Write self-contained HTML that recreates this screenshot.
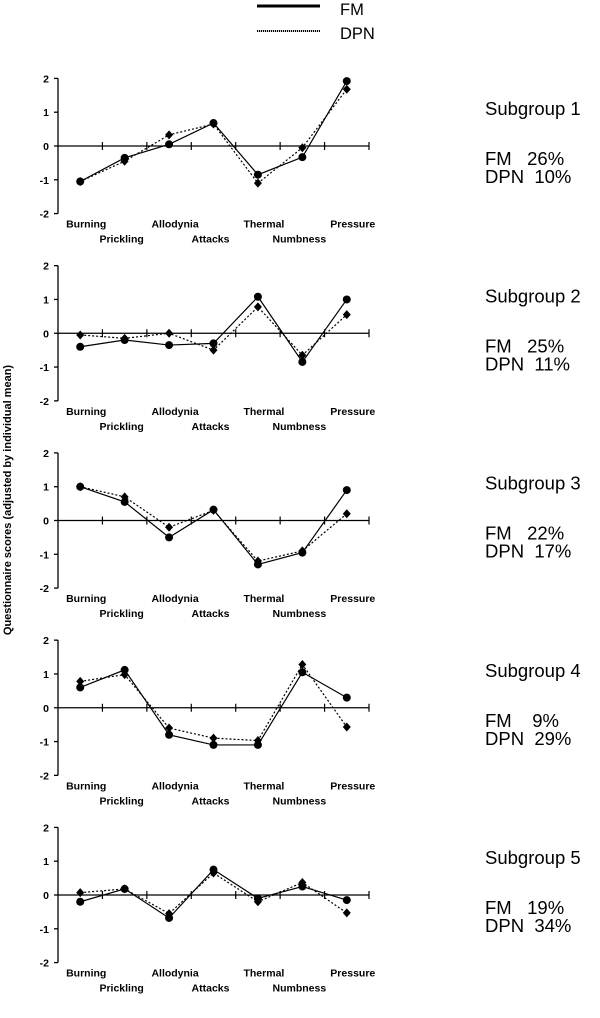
<!DOCTYPE html>
<html><head><meta charset="utf-8"><style>
body{margin:0;background:#fff;}
svg{display:block;font-family:"Liberation Sans",Arial,sans-serif;}
</style></head><body>
<svg id="chart" width="600" height="1018" viewBox="0 0 600 1018" xmlns="http://www.w3.org/2000/svg">
<g>
<line x1="257" y1="6" x2="320" y2="6" stroke="#000" stroke-width="3"/>
<text x="340" y="15" font-size="16.5">FM</text>
<line x1="257" y1="31" x2="320" y2="31" stroke="#000" stroke-width="2" stroke-dasharray="1.2,0.8"/>
<text x="340" y="39" font-size="16.5">DPN</text>
</g>
<text transform="translate(11,500) rotate(-90)" text-anchor="middle" font-size="11" font-weight="bold">Questionnaire scores (adjusted by individual mean)</text>
</svg>
<script>
const categories=["Burning","Prickling","Allodynia","Attacks","Thermal","Numbness","Pressure"];
const yTicks=[2,1,0,-1,-2];
const fm1=[-1.05,-0.35,0.05,0.68,-0.85,-0.33,1.92];
const dpn1=[-1.05,-0.45,0.33,0.65,-1.1,-0.05,1.68];
const fm2=[-0.4,-0.2,-0.35,-0.3,1.08,-0.85,1.0];
const dpn2=[-0.05,-0.15,0,-0.5,0.78,-0.65,0.55];
const fm3=[1.0,0.55,-0.5,0.32,-1.3,-0.95,0.9];
const dpn3=[1.0,0.7,-0.2,0.3,-1.2,-0.9,0.2];
const fm4=[0.6,1.12,-0.8,-1.1,-1.1,1.05,0.3];
const dpn4=[0.78,0.98,-0.6,-0.9,-0.97,1.28,-0.57];
const fm5=[-0.2,0.18,-0.68,0.75,-0.1,0.25,-0.15];
const dpn5=[0.07,0.18,-0.55,0.65,-0.2,0.37,-0.53];
const fmPct=["26%","25%","22%","9%","19%"];
const dpnPct=["10%","11%","17%","29%","34%"];
const fmSeries=[fm1,fm2,fm3,fm4,fm5];
const dpnSeries=[dpn1,dpn2,dpn3,dpn4,dpn5];

const NS="http://www.w3.org/2000/svg";
const svg=document.getElementById('chart');
function mk(tag,attrs,parent){const e=document.createElementNS(NS,tag);for(const k in attrs)e.setAttribute(k,attrs[k]);(parent||svg).appendChild(e);return e;}
const x0=58,x1=369,unit=33.8,step=(x1-x0)/categories.length;
function xs(i){return x0+step*(i+0.5);}
for(let p=0;p<5;p++){
  const zero=146+p*187.25;
  function ys(v){return zero-v*unit;}
  const g=mk('g',{});
  
  
  const ya=mk('line',{x1:x0,y1:ys(2),x2:x0,y2:ys(-2),stroke:'#000','stroke-width':1.3},g);
  
  
  yTicks.forEach(t=>{
    const tk=mk('line',{x1:x0-4,y1:ys(t),x2:x0,y2:ys(t),stroke:'#000','stroke-width':1.3},g);
    
    
    const tl=mk('text',{x:x0-9,y:ys(t)+4,'text-anchor':'end','font-size':10.5,'font-weight':'bold'},g);
    tl.textContent=t;
    
    
  });
  const xa=mk('line',{x1:x0,y1:zero,x2:x1,y2:zero,stroke:'#000','stroke-width':1.3},g);
  
  
  for(let i=1;i<=categories.length;i++){
    const tk=mk('line',{x1:x0+step*i,y1:zero-4,x2:x0+step*i,y2:zero+4,stroke:'#000','stroke-width':1.2},g);
    
    
  }
  categories.forEach((c,i)=>{
    const tl=mk('text',{x:xs(i)+(i%2==0?6:-3),y:ys(-2)+(i%2==0?14:29),'text-anchor':'middle','font-size':10.5,'font-weight':'bold'},g);
    tl.textContent=c;
    
    
  });
  const fm=fmSeries[p],dpn=dpnSeries[p];
  const dl=mk('polyline',{points:dpn.map((v,i)=>xs(i)+','+ys(v)).join(' '),fill:'none',stroke:'#000','stroke-width':1.2,'stroke-dasharray':'2,2'},g);
  
  
  const fl=mk('polyline',{points:fm.map((v,i)=>xs(i)+','+ys(v)).join(' '),fill:'none',stroke:'#000','stroke-width':1.2},g);
  
  
  dpn.forEach((v,i)=>{
    const x=xs(i),y=ys(v);
    const d=mk('polygon',{points:`${x},${y-4.5} ${x+4},${y} ${x},${y+4.5} ${x-4},${y}`,fill:'#000'},g);
    
    
  });
  fm.forEach((v,i)=>{
    const c=mk('circle',{cx:xs(i),cy:ys(v),r:4,fill:'#000'},g);
    
    
  });
  const t1=mk('text',{x:485,y:zero-31,'font-size':18.5},g);
  t1.textContent='Subgroup '+(p+1);
  
  
  const t2=mk('text',{x:485,y:zero+19,'font-size':18.5},g);
  t2.textContent=(fmPct[p].length<3?'FM    ':'FM   ')+fmPct[p];
  t2.setAttribute('style','white-space:pre');
  
  
  const t3=mk('text',{x:485,y:zero+37,'font-size':18.5},g);
  t3.textContent='DPN  '+dpnPct[p];
  t3.setAttribute('style','white-space:pre');
  
  
}
</script>
</body></html>
